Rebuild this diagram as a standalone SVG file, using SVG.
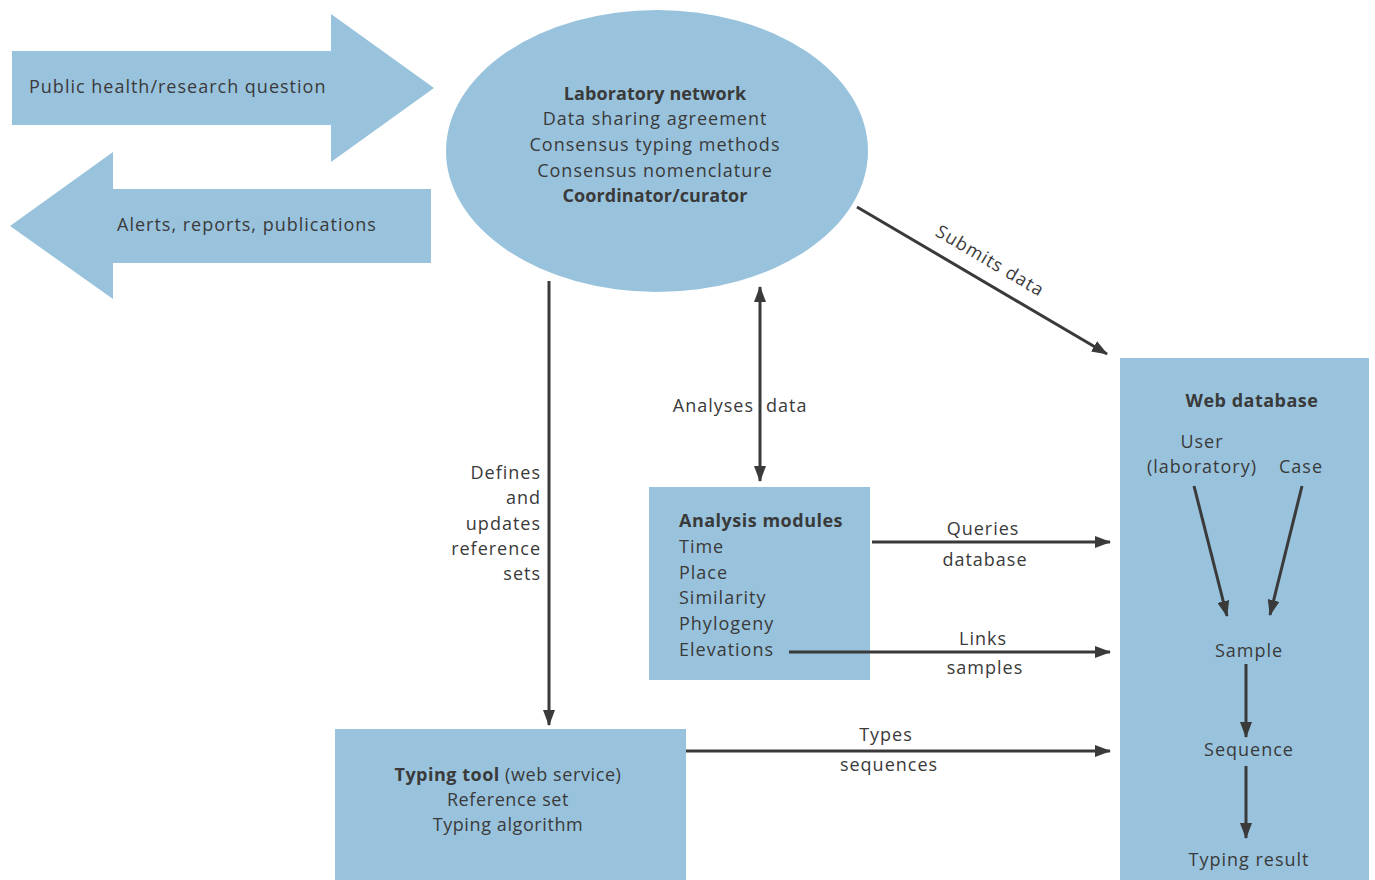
<svg xmlns="http://www.w3.org/2000/svg" width="1375" height="880" viewBox="0 0 1375 880">
<style>
.shape{fill:#99c3dd;stroke:none}
.t{font-family:"Open Sans","Liberation Sans",sans-serif;font-size:18px;fill:#3a3a3a;letter-spacing:1px}
.b{font-weight:bold;letter-spacing:0.5px}
.bt{letter-spacing:0.1px}
.n{letter-spacing:0.6px}
.c{text-anchor:middle}
.e{text-anchor:end}
.ln{stroke:#3a3a3a;stroke-width:3;fill:none}
</style>
<defs>
<marker id="ah" markerUnits="userSpaceOnUse" markerWidth="16" markerHeight="12" refX="15" refY="6" orient="auto-start-reverse" viewBox="0 0 16 12">
<path d="M0,0 L16,6 L0,12 z" fill="#3a3a3a"/>
</marker>
</defs>
<rect width="1375" height="880" fill="#ffffff"/>
<g id="question">
<polygon class="shape" points="12,51 331,51 331,14 434,88 331,162 331,125 12,125"/>
<text class="t" x="29" y="93">Public health/research question</text>
</g>
<g id="alerts">
<polygon class="shape" points="431,189 113,189 113,152 10,226 113,299 113,263 431,263"/>
<text class="t" x="117" y="231">Alerts, reports, publications</text>
</g>
<g id="lab-network">
<ellipse class="shape" cx="657" cy="151" rx="211" ry="141"/>
<text class="t c b bt" x="655" y="100">Laboratory network</text>
<text class="t c" x="655" y="125">Data sharing agreement</text>
<text class="t c" x="655" y="151">Consensus typing methods</text>
<text class="t c" x="655" y="177">Consensus nomenclature</text>
<text class="t c b bt" x="655" y="202">Coordinator/curator</text>
</g>
<g id="analysis-modules">
<rect class="shape" x="649" y="487" width="221" height="193"/>
<text class="t b" x="679" y="527">Analysis modules</text>
<text class="t" x="679" y="553">Time</text>
<text class="t" x="679" y="579">Place</text>
<text class="t" x="679" y="604">Similarity</text>
<text class="t" x="679" y="630">Phylogeny</text>
<text class="t" x="679" y="656">Elevations</text>
</g>
<g id="typing-tool">
<rect class="shape" x="335" y="729" width="351" height="151"/>
<text class="t c n" x="508" y="781"><tspan class="b">Typing tool</tspan> (web service)</text>
<text class="t c n" x="508" y="806">Reference set</text>
<text class="t c n" x="508" y="831">Typing algorithm</text>
</g>
<g id="web-database">
<rect class="shape" x="1120" y="358" width="249" height="522"/>
<text class="t c b" x="1252" y="407">Web database</text>
<text class="t c" x="1202" y="448">User</text>
<text class="t c" x="1202" y="473">(laboratory)</text>
<text class="t c" x="1301" y="473">Case</text>
<text class="t c" x="1249" y="657">Sample</text>
<text class="t c" x="1249" y="756">Sequence</text>
<text class="t c" x="1249" y="866">Typing result</text>
</g>
<g id="connectors">
<line class="ln" x1="857" y1="207" x2="1107" y2="354" marker-end="url(#ah)"/>
<line class="ln" x1="760" y1="287" x2="760" y2="481" marker-start="url(#ah)" marker-end="url(#ah)"/>
<line class="ln" x1="549" y1="281" x2="549" y2="725" marker-end="url(#ah)"/>
<line class="ln" x1="872" y1="542" x2="1110" y2="542" marker-end="url(#ah)"/>
<line class="ln" x1="789" y1="652" x2="1110" y2="652" marker-end="url(#ah)"/>
<line class="ln" x1="686" y1="751" x2="1110" y2="751" marker-end="url(#ah)"/>
<line class="ln" x1="1194" y1="486" x2="1227" y2="616" marker-end="url(#ah)"/>
<line class="ln" x1="1302" y1="486" x2="1270" y2="615" marker-end="url(#ah)"/>
<line class="ln" x1="1246" y1="664" x2="1246" y2="737" marker-end="url(#ah)"/>
<line class="ln" x1="1246" y1="766" x2="1246" y2="838" marker-end="url(#ah)"/>
<text class="t c" transform="translate(987,266) rotate(30.5)">Submits data</text>
<text class="t e" x="754" y="412">Analyses</text>
<text class="t" x="766" y="412">data</text>
<text class="t e" x="541" y="479">Defines</text>
<text class="t e" x="541" y="504">and</text>
<text class="t e" x="541" y="530">updates</text>
<text class="t e" x="541" y="555">reference</text>
<text class="t e" x="541" y="580">sets</text>
<text class="t c" x="983" y="535">Queries</text>
<text class="t c" x="985" y="566">database</text>
<text class="t c" x="983" y="645">Links</text>
<text class="t c" x="985" y="674">samples</text>
<text class="t c" x="886" y="741">Types</text>
<text class="t c" x="889" y="771">sequences</text>
</g>
</svg>
